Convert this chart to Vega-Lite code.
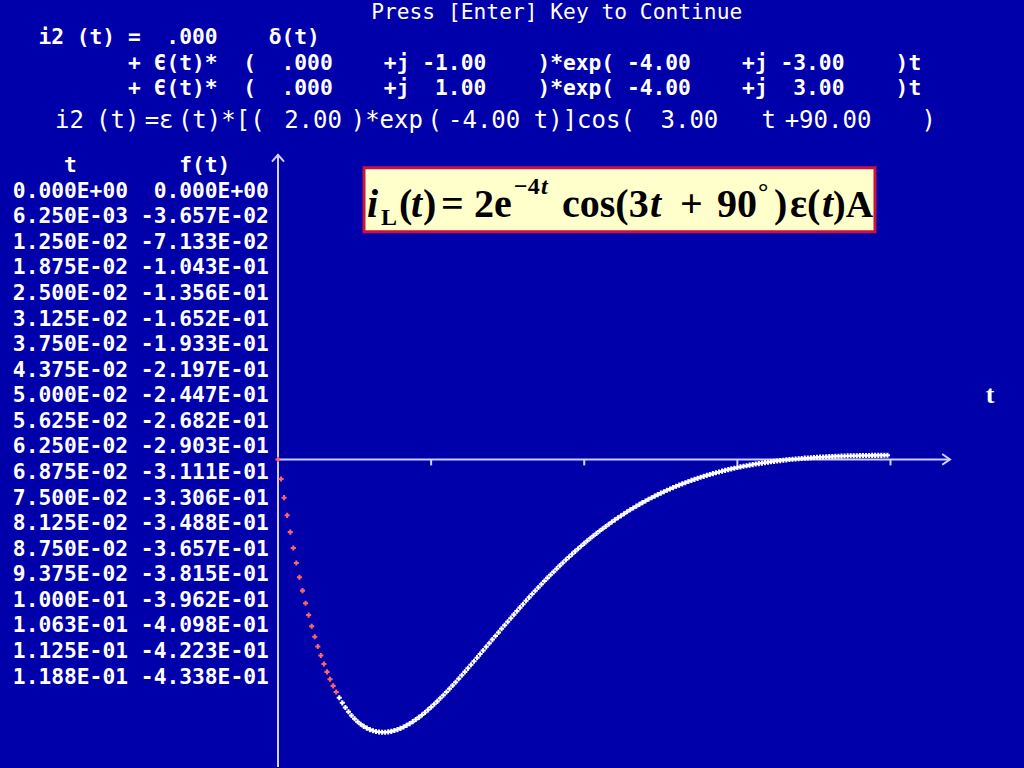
{
"$schema": "https://vega.github.io/schema/vega-lite/v6.json",
"width": 1024, "height": 768,
"autosize": {"type": "fit", "contains": "padding"},
"padding": 0,
"background": "#0000AA",
"config": {"view": {"stroke": null}, "axis": {"disable": true}, "legend": {"disable": true},
  "text": {"font": "DejaVu Sans Mono", "color": "#FFFFFF", "align": "left", "baseline": "middle", "fontSize": 21.26}},
"data": {"values": [{}]},
"datasets": {
 "pts": [
{"t":0,"f":0},{"t":0.00625,"f":-0.03657},{"t":0.0125,"f":-0.07133},{"t":0.01875,"f":-0.1043},{"t":0.025,"f":-0.1356},{"t":0.03125,"f":-0.1652},{"t":0.0375,"f":-0.1933},{"t":0.04375,"f":-0.2197},{"t":0.05,"f":-0.2447},{"t":0.05625,"f":-0.2682},
{"t":0.0625,"f":-0.2903},{"t":0.06875,"f":-0.3111},{"t":0.075,"f":-0.3306},{"t":0.08125,"f":-0.3488},{"t":0.0875,"f":-0.3657},{"t":0.09375,"f":-0.3815},{"t":0.1,"f":-0.3962},{"t":0.10625,"f":-0.4098},{"t":0.1125,"f":-0.4223},{"t":0.11875,"f":-0.4338},
{"t":0.125,"f":-0.4443},{"t":0.13125,"f":-0.4539},{"t":0.1375,"f":-0.4626},{"t":0.14375,"f":-0.4704},{"t":0.15,"f":-0.4774},{"t":0.15625,"f":-0.4836},{"t":0.1625,"f":-0.4891},{"t":0.16875,"f":-0.4938},{"t":0.175,"f":-0.4978},{"t":0.18125,"f":-0.5011},
{"t":0.1875,"f":-0.5038},{"t":0.19375,"f":-0.5059},{"t":0.2,"f":-0.5074},{"t":0.20625,"f":-0.5084},{"t":0.2125,"f":-0.5088},{"t":0.21875,"f":-0.5087},{"t":0.225,"f":-0.5081},{"t":0.23125,"f":-0.5071},{"t":0.2375,"f":-0.5056},{"t":0.24375,"f":-0.5038},
{"t":0.25,"f":-0.5015},{"t":0.25625,"f":-0.4989},{"t":0.2625,"f":-0.4959},{"t":0.26875,"f":-0.4926},{"t":0.275,"f":-0.489},{"t":0.28125,"f":-0.4851},{"t":0.2875,"f":-0.481},{"t":0.29375,"f":-0.4765},{"t":0.3,"f":-0.4719},{"t":0.30625,"f":-0.467},
{"t":0.3125,"f":-0.4619},{"t":0.31875,"f":-0.4566},{"t":0.325,"f":-0.4512},{"t":0.33125,"f":-0.4455},{"t":0.3375,"f":-0.4398},{"t":0.34375,"f":-0.4338},{"t":0.35,"f":-0.4278},{"t":0.35625,"f":-0.4217},{"t":0.3625,"f":-0.4154},{"t":0.36875,"f":-0.4091},
{"t":0.375,"f":-0.4026},{"t":0.38125,"f":-0.3962},{"t":0.3875,"f":-0.3896},{"t":0.39375,"f":-0.383},{"t":0.4,"f":-0.3764},{"t":0.40625,"f":-0.3697},{"t":0.4125,"f":-0.363},{"t":0.41875,"f":-0.3562},{"t":0.425,"f":-0.3495},{"t":0.43125,"f":-0.3428},
{"t":0.4375,"f":-0.336},{"t":0.44375,"f":-0.3293},{"t":0.45,"f":-0.3226},{"t":0.45625,"f":-0.3159},{"t":0.4625,"f":-0.3092},{"t":0.46875,"f":-0.3026},{"t":0.475,"f":-0.296},{"t":0.48125,"f":-0.2894},{"t":0.4875,"f":-0.2829},{"t":0.49375,"f":-0.2764},
{"t":0.5,"f":-0.27},{"t":0.50625,"f":-0.2636},{"t":0.5125,"f":-0.2573},{"t":0.51875,"f":-0.2511},{"t":0.525,"f":-0.2449},{"t":0.53125,"f":-0.2388},{"t":0.5375,"f":-0.2328},{"t":0.54375,"f":-0.2268},{"t":0.55,"f":-0.2209},{"t":0.55625,"f":-0.2151},
{"t":0.5625,"f":-0.2094},{"t":0.56875,"f":-0.2037},{"t":0.575,"f":-0.1981},{"t":0.58125,"f":-0.1926},{"t":0.5875,"f":-0.1872},{"t":0.59375,"f":-0.1819},{"t":0.6,"f":-0.1767},{"t":0.60625,"f":-0.1715},{"t":0.6125,"f":-0.1665},{"t":0.61875,"f":-0.1615},
{"t":0.625,"f":-0.1566},{"t":0.63125,"f":-0.1518},{"t":0.6375,"f":-0.1471},{"t":0.64375,"f":-0.1425},{"t":0.65,"f":-0.138},{"t":0.65625,"f":-0.1336},{"t":0.6625,"f":-0.1292},{"t":0.66875,"f":-0.125},{"t":0.675,"f":-0.1208},{"t":0.68125,"f":-0.1167},
{"t":0.6875,"f":-0.1127},{"t":0.69375,"f":-0.1088},{"t":0.7,"f":-0.105},{"t":0.70625,"f":-0.1013},{"t":0.7125,"f":-0.0976},{"t":0.71875,"f":-0.094},{"t":0.725,"f":-0.0906},{"t":0.73125,"f":-0.0872},{"t":0.7375,"f":-0.0839},{"t":0.74375,"f":-0.0806},
{"t":0.75,"f":-0.0775},{"t":0.75625,"f":-0.0744},{"t":0.7625,"f":-0.0714},{"t":0.76875,"f":-0.0685},{"t":0.775,"f":-0.0657},{"t":0.78125,"f":-0.0629},{"t":0.7875,"f":-0.0602},{"t":0.79375,"f":-0.0576},{"t":0.8,"f":-0.0551},{"t":0.80625,"f":-0.0526},
{"t":0.8125,"f":-0.0502},{"t":0.81875,"f":-0.0479},{"t":0.825,"f":-0.0456},{"t":0.83125,"f":-0.0434},{"t":0.8375,"f":-0.0413},{"t":0.84375,"f":-0.0392},{"t":0.85,"f":-0.0372},{"t":0.85625,"f":-0.0353},{"t":0.8625,"f":-0.0334},{"t":0.86875,"f":-0.0316},
{"t":0.875,"f":-0.0298},{"t":0.88125,"f":-0.0281},{"t":0.8875,"f":-0.0265},{"t":0.89375,"f":-0.0249},{"t":0.9,"f":-0.0234},{"t":0.90625,"f":-0.0219},{"t":0.9125,"f":-0.0204},{"t":0.91875,"f":-0.0191},{"t":0.925,"f":-0.0177},{"t":0.93125,"f":-0.0164},
{"t":0.9375,"f":-0.0152},{"t":0.94375,"f":-0.014},{"t":0.95,"f":-0.0129},{"t":0.95625,"f":-0.0118},{"t":0.9625,"f":-0.0107},{"t":0.96875,"f":-0.0097},{"t":0.975,"f":-0.0087},{"t":0.98125,"f":-0.0078},{"t":0.9875,"f":-0.0069},{"t":0.99375,"f":-0.006},
{"t":1,"f":-0.0052},{"t":1.00625,"f":-0.0044},{"t":1.0125,"f":-0.0036},{"t":1.01875,"f":-0.0029},{"t":1.025,"f":-0.0022},{"t":1.03125,"f":-0.0015},{"t":1.0375,"f":-0.0009},{"t":1.04375,"f":-0.0003},{"t":1.05,"f":0.0003},{"t":1.05625,"f":0.0008},
{"t":1.0625,"f":0.0013},{"t":1.06875,"f":0.0018},{"t":1.075,"f":0.0023},{"t":1.08125,"f":0.0027},{"t":1.0875,"f":0.0031},{"t":1.09375,"f":0.0035},{"t":1.1,"f":0.0039},{"t":1.10625,"f":0.0042},{"t":1.1125,"f":0.0045},{"t":1.11875,"f":0.0049},
{"t":1.125,"f":0.0051},{"t":1.13125,"f":0.0054},{"t":1.1375,"f":0.0057},{"t":1.14375,"f":0.0059},{"t":1.15,"f":0.0061},{"t":1.15625,"f":0.0063},{"t":1.1625,"f":0.0065},{"t":1.16875,"f":0.0067},{"t":1.175,"f":0.0068},{"t":1.18125,"f":0.0069},
{"t":1.1875,"f":0.0071},{"t":1.19375,"f":0.0072},{"t":1.2,"f":0.0073},{"t":1.20625,"f":0.0074},{"t":1.2125,"f":0.0075},{"t":1.21875,"f":0.0075},{"t":1.225,"f":0.0076},{"t":1.23125,"f":0.0076},{"t":1.2375,"f":0.0077},{"t":1.24375,"f":0.0077}
 ],
 "table": [
{"t":0,"ts":"0.000E+00","fs":"0.000E+00"},{"t":0.00625,"ts":"6.250E-03","fs":"-3.657E-02"},{"t":0.0125,"ts":"1.250E-02","fs":"-7.133E-02"},{"t":0.01875,"ts":"1.875E-02","fs":"-1.043E-01"},{"t":0.025,"ts":"2.500E-02","fs":"-1.356E-01"},
{"t":0.03125,"ts":"3.125E-02","fs":"-1.652E-01"},{"t":0.0375,"ts":"3.750E-02","fs":"-1.933E-01"},{"t":0.04375,"ts":"4.375E-02","fs":"-2.197E-01"},{"t":0.05,"ts":"5.000E-02","fs":"-2.447E-01"},{"t":0.05625,"ts":"5.625E-02","fs":"-2.682E-01"},
{"t":0.0625,"ts":"6.250E-02","fs":"-2.903E-01"},{"t":0.06875,"ts":"6.875E-02","fs":"-3.111E-01"},{"t":0.075,"ts":"7.500E-02","fs":"-3.306E-01"},{"t":0.08125,"ts":"8.125E-02","fs":"-3.488E-01"},{"t":0.0875,"ts":"8.750E-02","fs":"-3.657E-01"},
{"t":0.09375,"ts":"9.375E-02","fs":"-3.815E-01"},{"t":0.1,"ts":"1.000E-01","fs":"-3.962E-01"},{"t":0.10625,"ts":"1.063E-01","fs":"-4.098E-01"},{"t":0.1125,"ts":"1.125E-01","fs":"-4.223E-01"},{"t":0.11875,"ts":"1.188E-01","fs":"-4.338E-01"}
 ],
 "ticks": [{"t":0.3125},{"t":0.625},{"t":0.9375},{"t":1.25}]
},
"resolve": {"scale": {"x": "independent", "y": "independent"}},
"layer": [
 {"layer": [
  {"mark": {"type": "rule", "color": "#D0D0FF", "strokeWidth": 2},
   "encoding": {"x": {"datum": 0, "scale": {"domain": [-0.567347, 1.522449], "nice": false, "zero": false}, "axis": null},
                "x2": {"datum": 1.371429},
                "y": {"datum": 0, "scale": {"domain": [-0.573557, 0.856611], "nice": false, "zero": false}, "axis": null}}},
  {"mark": {"type": "rule", "color": "#D0D0FF", "strokeWidth": 2},
   "encoding": {"x": {"datum": 0}, "y": {"datum": 0.56797}, "y2": {"datum": -0.573557}}},
  {"data": {"name": "ticks"}, "mark": {"type": "rule", "color": "#D0D0FF", "strokeWidth": 2},
   "encoding": {"x": {"field": "t", "type": "quantitative"}, "y": {"datum": 0}, "y2": {"datum": -0.0112}}},
  {"mark": {"type": "point", "shape": "M-1,1.15L0,0L1,1.15", "size": 144, "filled": false, "stroke": "#D0D0FF", "strokeWidth": 2, "opacity": 1},
   "encoding": {"x": {"datum": 0}, "y": {"datum": 0.56797}}},
  {"mark": {"type": "point", "shape": "M-1.3,-0.9L0,0L-1.3,0.9", "size": 144, "filled": false, "stroke": "#D0D0FF", "strokeWidth": 2, "opacity": 1},
   "encoding": {"x": {"datum": 1.371429}, "y": {"datum": 0}}},
  {"data": {"name": "pts"},
   "mark": {"type": "point", "shape": "cross", "filled": true, "size": 26, "opacity": 1},
   "encoding": {
    "x": {"field": "t", "type": "quantitative"},
    "y": {"field": "f", "type": "quantitative"},
    "color": {"condition": {"test": "datum.t < 0.12", "value": "#FF6666"}, "value": "#FFFFFF"}}},
  {"mark": {"type": "text", "text": "t", "font": "Liberation Serif", "fontWeight": "bold", "fontSize": 26, "align": "center"},
   "encoding": {"x": {"datum": 1.453061}, "y": {"datum": 0.119181}}},
  {"mark": {"type": "rect", "fill": "#FFFFCC", "stroke": "#CC1040", "strokeWidth": 3},
   "encoding": {"x": {"datum": 0.17551}, "x2": {"datum": 1.218367}, "y": {"datum": 0.543762}, "y2": {"datum": 0.424581}}},
  {"mark": {"type": "text", "text": "i", "font": "Liberation Serif", "fontWeight": "bold", "fontStyle": "italic", "fontSize": 40, "baseline": "alphabetic", "color": "#000000"},
   "encoding": {"x": {"datum": 0.181633}, "y": {"datum": 0.452514}}},
  {"mark": {"type": "text", "text": "L", "font": "Liberation Serif", "fontWeight": "bold", "fontSize": 24, "baseline": "alphabetic", "color": "#000000"},
   "encoding": {"x": {"datum": 0.210204}, "y": {"datum": 0.437616}}},
  {"mark": {"type": "text", "text": "(", "font": "Liberation Serif", "fontWeight": "bold", "fontSize": 40, "baseline": "alphabetic", "color": "#000000"},
   "encoding": {"x": {"datum": 0.246939}, "y": {"datum": 0.452514}}},
  {"mark": {"type": "text", "text": "t", "font": "Liberation Serif", "fontWeight": "bold", "fontStyle": "italic", "fontSize": 40, "baseline": "alphabetic", "color": "#000000"},
   "encoding": {"x": {"datum": 0.271429}, "y": {"datum": 0.452514}}},
  {"mark": {"type": "text", "text": ")", "font": "Liberation Serif", "fontWeight": "bold", "fontSize": 40, "baseline": "alphabetic", "color": "#000000"},
   "encoding": {"x": {"datum": 0.295918}, "y": {"datum": 0.452514}}},
  {"mark": {"type": "text", "text": "=", "font": "Liberation Serif", "fontWeight": "bold", "fontSize": 40, "baseline": "alphabetic", "color": "#000000"},
   "encoding": {"x": {"datum": 0.332653}, "y": {"datum": 0.452514}}},
  {"mark": {"type": "text", "text": "2e", "font": "Liberation Serif", "fontWeight": "bold", "fontSize": 40, "baseline": "alphabetic", "color": "#000000"},
   "encoding": {"x": {"datum": 0.4}, "y": {"datum": 0.452514}}},
  {"mark": {"type": "text", "text": "−4", "font": "Liberation Serif", "fontWeight": "bold", "fontSize": 24, "baseline": "alphabetic", "color": "#000000"},
   "encoding": {"x": {"datum": 0.481633}, "y": {"datum": 0.495345}}},
  {"mark": {"type": "text", "text": "t", "font": "Liberation Serif", "fontWeight": "bold", "fontStyle": "italic", "fontSize": 24, "baseline": "alphabetic", "color": "#000000"},
   "encoding": {"x": {"datum": 0.536735}, "y": {"datum": 0.495345}}},
  {"mark": {"type": "text", "text": "cos(3", "font": "Liberation Serif", "fontWeight": "bold", "fontSize": 40, "baseline": "alphabetic", "color": "#000000"},
   "encoding": {"x": {"datum": 0.579592}, "y": {"datum": 0.452514}}},
  {"mark": {"type": "text", "text": "t", "font": "Liberation Serif", "fontWeight": "bold", "fontStyle": "italic", "fontSize": 40, "baseline": "alphabetic", "color": "#000000"},
   "encoding": {"x": {"datum": 0.759184}, "y": {"datum": 0.452514}}},
  {"mark": {"type": "text", "text": "+", "font": "Liberation Serif", "fontWeight": "bold", "fontSize": 40, "baseline": "alphabetic", "color": "#000000"},
   "encoding": {"x": {"datum": 0.820408}, "y": {"datum": 0.452514}}},
  {"mark": {"type": "text", "text": "90", "font": "Liberation Serif", "fontWeight": "bold", "fontSize": 40, "baseline": "alphabetic", "color": "#000000"},
   "encoding": {"x": {"datum": 0.895918}, "y": {"datum": 0.452514}}},
  {"mark": {"type": "text", "text": "°", "font": "Liberation Serif", "fontWeight": "bold", "fontSize": 26, "baseline": "alphabetic", "color": "#000000"},
   "encoding": {"x": {"datum": 0.979592}, "y": {"datum": 0.484171}}},
  {"mark": {"type": "text", "text": ")", "font": "Liberation Serif", "fontWeight": "bold", "fontSize": 40, "baseline": "alphabetic", "color": "#000000"},
   "encoding": {"x": {"datum": 1.012245}, "y": {"datum": 0.452514}}},
  {"mark": {"type": "text", "text": "ε(", "font": "Liberation Serif", "fontWeight": "bold", "fontSize": 40, "baseline": "alphabetic", "color": "#000000"},
   "encoding": {"x": {"datum": 1.044898}, "y": {"datum": 0.452514}}},
  {"mark": {"type": "text", "text": "t", "font": "Liberation Serif", "fontWeight": "bold", "fontStyle": "italic", "fontSize": 40, "baseline": "alphabetic", "color": "#000000"},
   "encoding": {"x": {"datum": 1.110204}, "y": {"datum": 0.452514}}},
  {"mark": {"type": "text", "text": ")A", "font": "Liberation Serif", "fontWeight": "bold", "fontSize": 38, "baseline": "alphabetic", "color": "#000000"},
   "encoding": {"x": {"datum": 1.132653}, "y": {"datum": 0.452514}}}
 ]},
 {"layer": [
  {"data": {"name": "table"},
   "mark": {"type": "text", "align": "right", "fontWeight": "bold"},
   "encoding": {
    "x": {"datum": 10, "scale": {"domain": [0, 80], "nice": false, "zero": false}, "axis": null},
    "y": {"field": "t", "type": "quantitative", "scale": {"domain": [-0.046875, 0.140625], "reverse": true, "nice": false, "zero": false}, "axis": null},
    "text": {"field": "ts"}}},
  {"data": {"name": "table"},
   "mark": {"type": "text", "align": "right", "fontWeight": "bold"},
   "encoding": {"x": {"datum": 21}, "y": {"field": "t", "type": "quantitative"}, "text": {"field": "fs"}}},
  {"mark": {"type": "text", "fontWeight": "bold", "text": "t\u00a0\u00a0\u00a0\u00a0\u00a0\u00a0\u00a0\u00a0f(t)"},
   "encoding": {"x": {"datum": 5}, "y": {"datum": -0.00625}}},
  {"mark": {"type": "text", "text": "Press [Enter] Key to Continue"},
   "encoding": {"x": {"datum": 29}, "y": {"datum": -0.04375}}},
  {"mark": {"type": "text", "fontWeight": "bold", "text": "i2\u00a0(t)\u00a0=\u00a0\u00a0.000\u00a0\u00a0\u00a0\u00a0δ(t)"},
   "encoding": {"x": {"datum": 3}, "y": {"datum": -0.0375}}},
  {"mark": {"type": "text", "fontWeight": "bold", "text": "+\u00a0Є(t)*\u00a0\u00a0(\u00a0\u00a0.000\u00a0\u00a0\u00a0\u00a0+j\u00a0-1.00\u00a0\u00a0\u00a0\u00a0)*exp(\u00a0-4.00\u00a0\u00a0\u00a0\u00a0+j\u00a0-3.00\u00a0\u00a0\u00a0\u00a0)t"},
   "encoding": {"x": {"datum": 10}, "y": {"datum": -0.03125}}},
  {"mark": {"type": "text", "fontWeight": "bold", "text": "+\u00a0Є(t)*\u00a0\u00a0(\u00a0\u00a0.000\u00a0\u00a0\u00a0\u00a0+j\u00a0\u00a01.00\u00a0\u00a0\u00a0\u00a0)*exp(\u00a0-4.00\u00a0\u00a0\u00a0\u00a0+j\u00a0\u00a03.00\u00a0\u00a0\u00a0\u00a0)t"},
   "encoding": {"x": {"datum": 10}, "y": {"datum": -0.025}}},
  {"mark": {"type": "text", "fontSize": 24, "text": "i2"}, "encoding": {"x": {"datum": 4.3}, "y": {"datum": -0.017334}}},
  {"mark": {"type": "text", "fontSize": 24, "text": "(t)"}, "encoding": {"x": {"datum": 7.5}, "y": {"datum": -0.017334}}},
  {"mark": {"type": "text", "fontSize": 24, "text": "=ε"}, "encoding": {"x": {"datum": 11.3}, "y": {"datum": -0.017334}}},
  {"mark": {"type": "text", "fontSize": 24, "text": "(t)*[("}, "encoding": {"x": {"datum": 13.9}, "y": {"datum": -0.017334}}},
  {"mark": {"type": "text", "fontSize": 24, "text": "2.00"}, "encoding": {"x": {"datum": 22.2}, "y": {"datum": -0.017334}}},
  {"mark": {"type": "text", "fontSize": 24, "text": ")*exp"}, "encoding": {"x": {"datum": 27.4}, "y": {"datum": -0.017334}}},
  {"mark": {"type": "text", "fontSize": 24, "text": "("}, "encoding": {"x": {"datum": 33.4}, "y": {"datum": -0.017334}}},
  {"mark": {"type": "text", "fontSize": 24, "text": "-4.00"}, "encoding": {"x": {"datum": 35.0}, "y": {"datum": -0.017334}}},
  {"mark": {"type": "text", "fontSize": 24, "text": "t)]cos("}, "encoding": {"x": {"datum": 41.7}, "y": {"datum": -0.017334}}},
  {"mark": {"type": "text", "fontSize": 24, "text": "3.00"}, "encoding": {"x": {"datum": 51.6}, "y": {"datum": -0.017334}}},
  {"mark": {"type": "text", "fontSize": 24, "text": "t"}, "encoding": {"x": {"datum": 59.5}, "y": {"datum": -0.017334}}},
  {"mark": {"type": "text", "fontSize": 24, "text": "+90.00"}, "encoding": {"x": {"datum": 61.3}, "y": {"datum": -0.017334}}},
  {"mark": {"type": "text", "fontSize": 24, "text": ")"}, "encoding": {"x": {"datum": 72.0}, "y": {"datum": -0.017334}}}
 ]}
]
}
